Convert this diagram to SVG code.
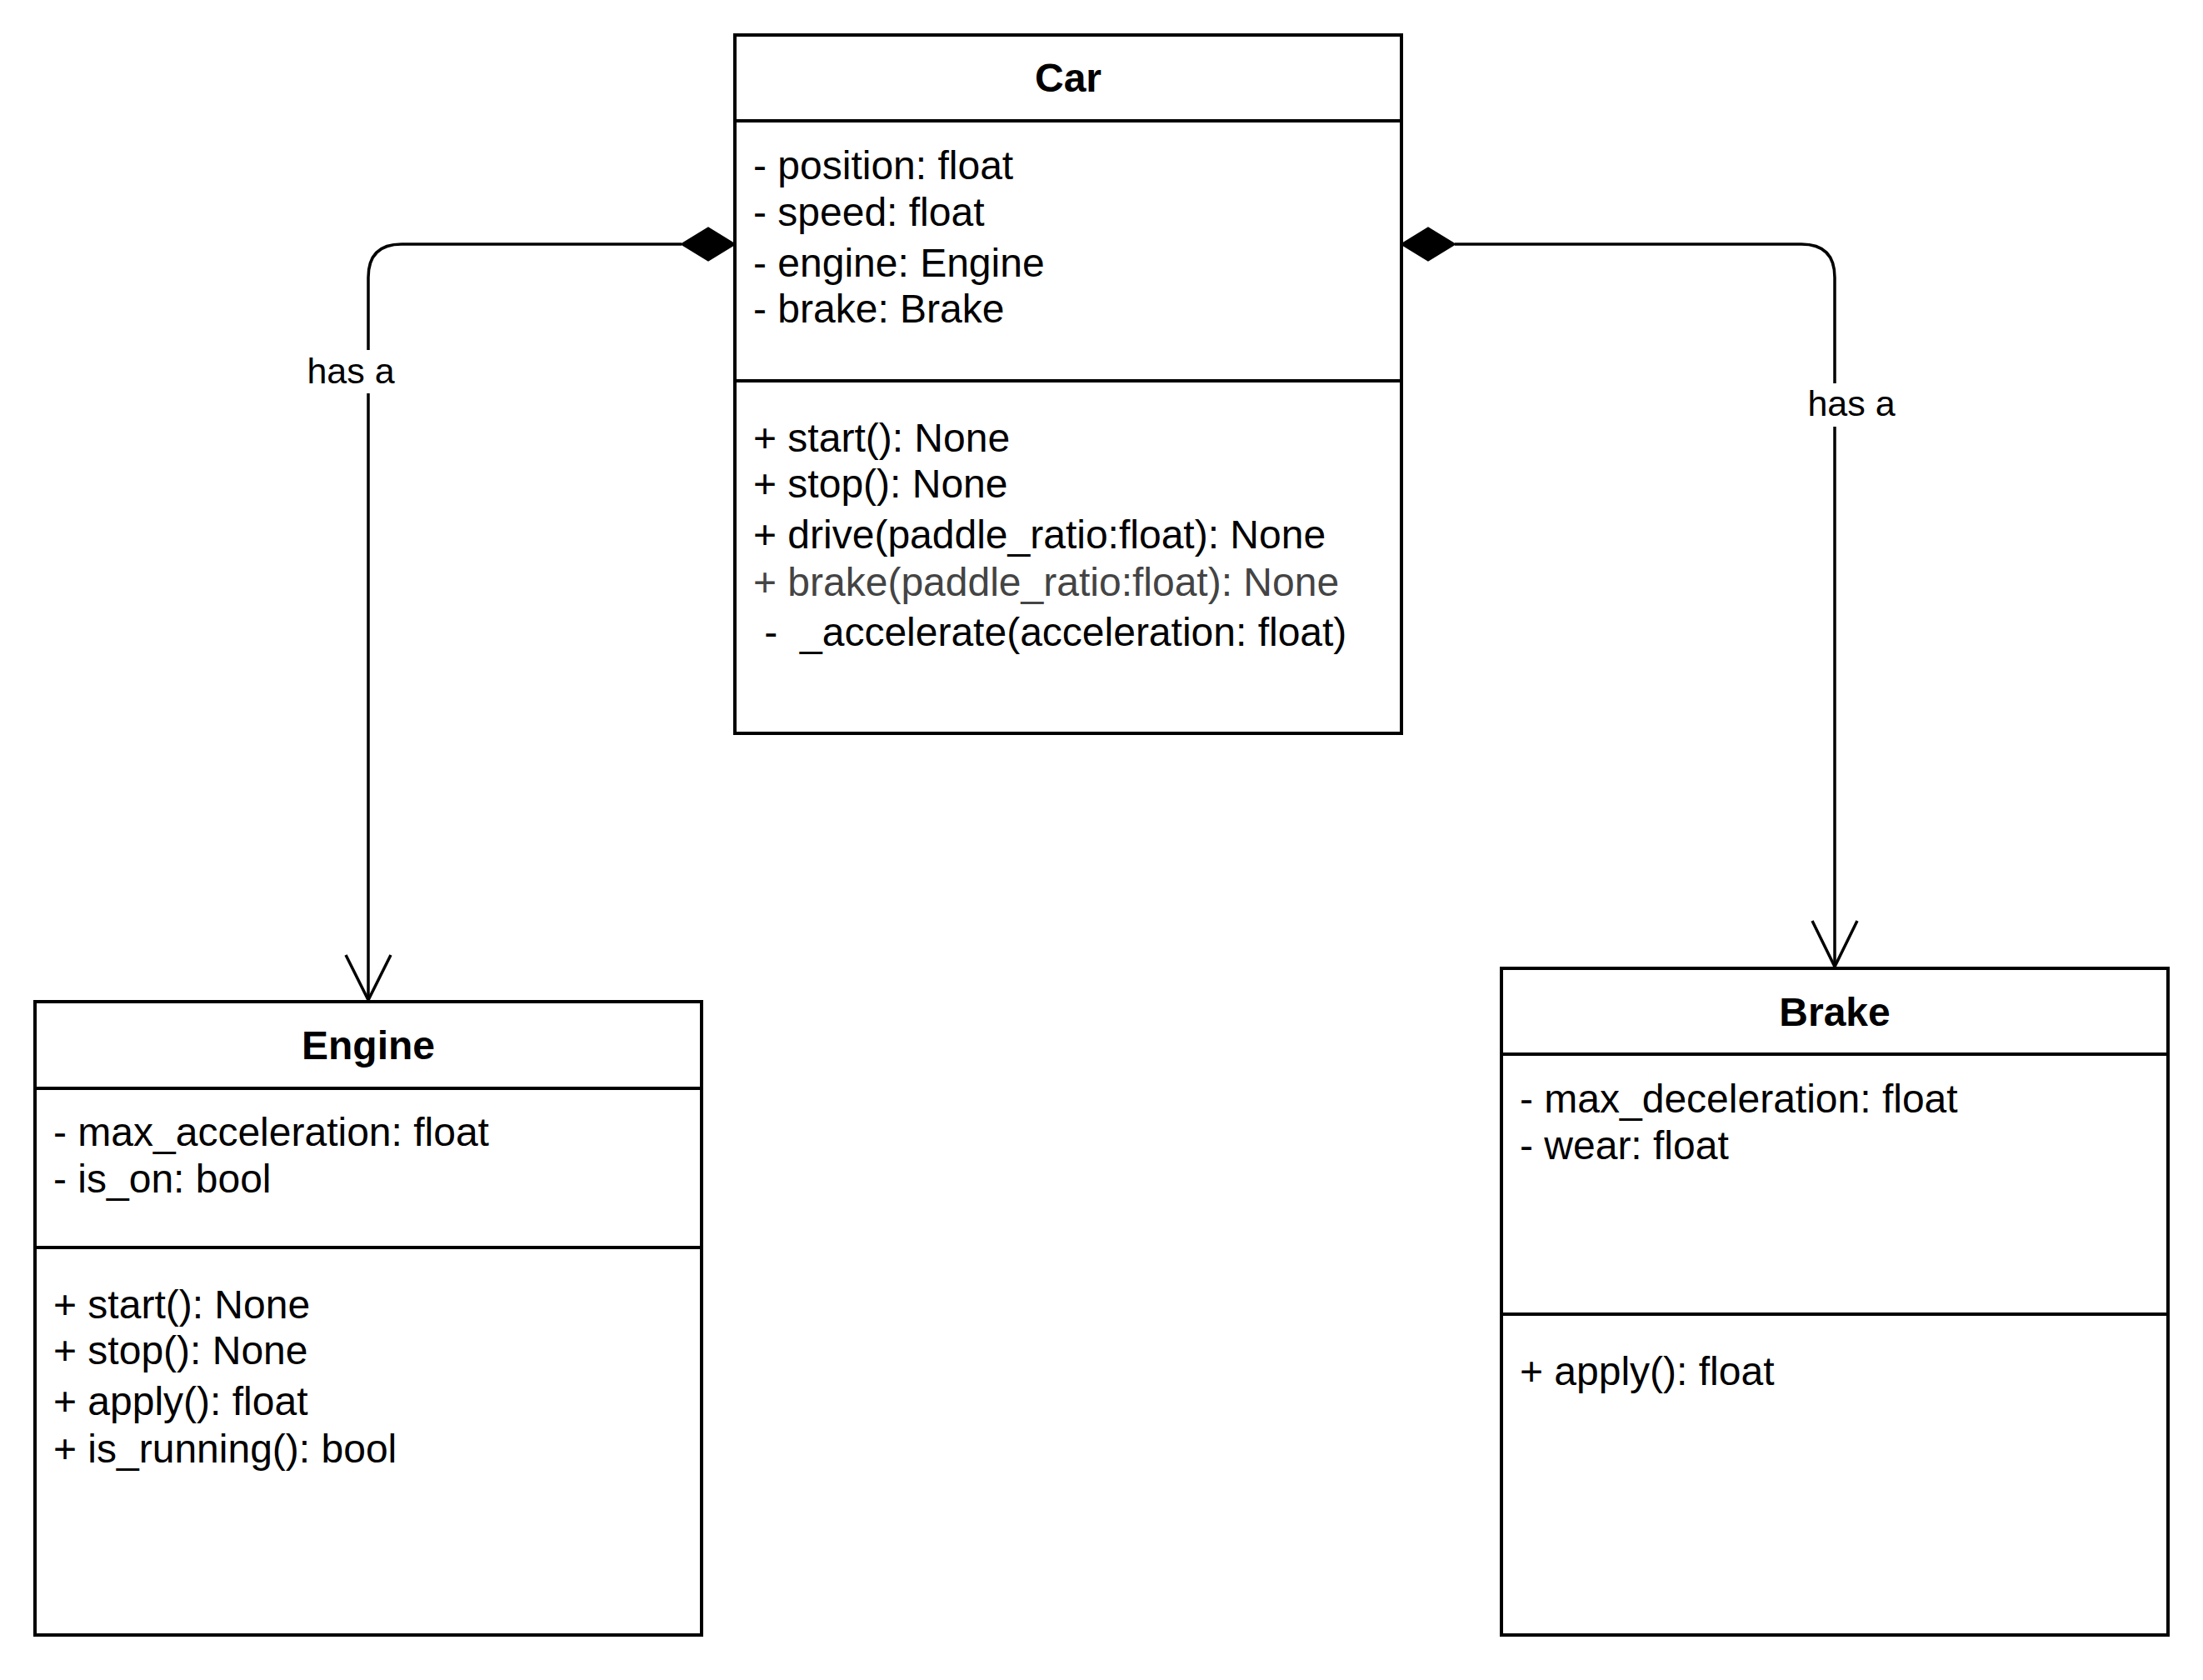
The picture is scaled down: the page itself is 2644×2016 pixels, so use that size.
<svg xmlns="http://www.w3.org/2000/svg" width="2644" height="2016" viewBox="0 0 2644 2016">
  <style>
    .box { fill: #ffffff; stroke: #000000; stroke-width: 4; }
    .div { stroke: #000000; stroke-width: 4; fill: none; }
    .title { font-family: "Liberation Sans", Arial, sans-serif; font-size: 48px; font-weight: bold; fill: #000000; text-anchor: middle; }
    .txt { font-family: "Liberation Sans", Arial, sans-serif; font-size: 48px; fill: #000000; white-space: pre; }
    .gray { fill: #444444; }
    .edge { stroke: #000000; stroke-width: 3.5; fill: none; }
    .arrow { stroke: #000000; stroke-width: 3.5; fill: none; stroke-linejoin: miter; }
    .diamond { fill: #000000; stroke: #000000; stroke-width: 2; }
    .lbl { font-family: "Liberation Sans", Arial, sans-serif; font-size: 43px; fill: #000000; text-anchor: middle; }
    .lblbg { fill: #ffffff; stroke: none; }
  </style>
  <rect x="0" y="0" width="2644" height="2016" fill="#ffffff"/>

  <g id="connectors">
    <g id="edge-car-engine">
      <path class="edge" d="M 818 293 L 482 293 Q 442 293 442 333 L 442 1200"/>
      <polyline class="arrow" points="415,1146 442,1200 469,1146"/>
      <polygon class="diamond" points="882,293 850,273.5 818,293 850,312.5"/>
      <rect class="lblbg" x="367" y="420" width="110" height="52"/>
      <text class="lbl" x="421" y="460">has a</text>
    </g>
    <g id="edge-car-brake">
      <path class="edge" d="M 1746 293 L 2162 293 Q 2202 293 2202 333 L 2202 1160"/>
      <polyline class="arrow" points="2175,1105 2202,1160 2229,1105"/>
      <polygon class="diamond" points="1682,293 1714,273.5 1746,293 1714,312.5"/>
      <rect class="lblbg" x="2167" y="460" width="110" height="52"/>
      <text class="lbl" x="2222" y="499">has a</text>
    </g>
  </g>

  <g id="node-car">
    <rect class="box" x="882" y="42" width="800" height="838"/>
    <line class="div" x1="882" y1="145" x2="1682" y2="145"/>
    <line class="div" x1="882" y1="457" x2="1682" y2="457"/>
    <text class="title" x="1282" y="110">Car</text>
    <text class="txt" x="904" y="215">- position: float</text>
    <text class="txt" x="904" y="271">- speed: float</text>
    <text class="txt" x="904" y="332">- engine: Engine</text>
    <text class="txt" x="904" y="387">- brake: Brake</text>
    <text class="txt" x="904" y="542">+ start(): None</text>
    <text class="txt" x="904" y="597">+ stop(): None</text>
    <text class="txt" x="904" y="658">+ drive(paddle_ratio:float): None</text>
    <text class="txt gray" x="904" y="715">+ brake(paddle_ratio:float): None</text>
    <text class="txt" x="904" y="775"> -  _accelerate(acceleration: float)</text>
  </g>

  <g id="node-engine">
    <rect class="box" x="42" y="1202" width="800" height="760"/>
    <line class="div" x1="42" y1="1306" x2="842" y2="1306"/>
    <line class="div" x1="42" y1="1497" x2="842" y2="1497"/>
    <text class="title" x="442" y="1271">Engine</text>
    <text class="txt" x="64" y="1375">- max_acceleration: float</text>
    <text class="txt" x="64" y="1431">- is_on: bool</text>
    <text class="txt" x="64" y="1582">+ start(): None</text>
    <text class="txt" x="64" y="1637">+ stop(): None</text>
    <text class="txt" x="64" y="1698">+ apply(): float</text>
    <text class="txt" x="64" y="1755">+ is_running(): bool</text>
  </g>

  <g id="node-brake">
    <rect class="box" x="1802" y="1162" width="800" height="800"/>
    <line class="div" x1="1802" y1="1265" x2="2602" y2="1265"/>
    <line class="div" x1="1802" y1="1577" x2="2602" y2="1577"/>
    <text class="title" x="2202" y="1231">Brake</text>
    <text class="txt" x="1824" y="1335">- max_deceleration: float</text>
    <text class="txt" x="1824" y="1391">- wear: float</text>
    <text class="txt" x="1824" y="1662">+ apply(): float</text>
  </g>
</svg>
